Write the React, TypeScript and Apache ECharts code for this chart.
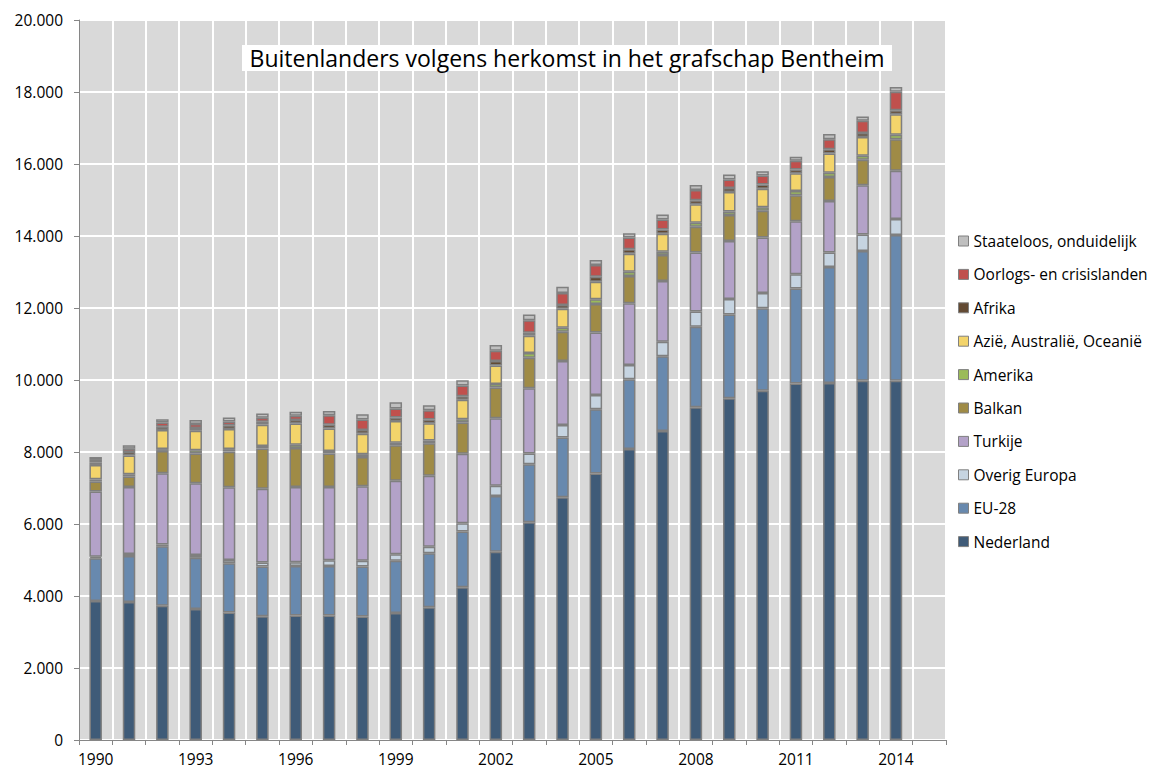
import React, { useEffect, useRef } from "react";
import * as echarts from "echarts";

const years = ["1990","1991","1992","1993","1994","1995","1996","1997","1998","1999","2000","2001","2002","2003","2004","2005","2006","2007","2008","2009","2010","2011","2012","2013","2014","2015"];

const nederland = [3860, 3830, 3730, 3640, 3540, 3440, 3460, 3460, 3430, 3530, 3690, 4240, 5230, 6050, 6740, 7400, 8080, 8580, 9240, 9490, 9700, 9900, 9920, 9980, 9980];
const eu28 = [1190, 1280, 1650, 1420, 1370, 1380, 1370, 1370, 1390, 1450, 1500, 1550, 1550, 1610, 1660, 1790, 1940, 2080, 2240, 2330, 2290, 2640, 3220, 3600, 4050];
const overigEuropa = [40, 60, 50, 80, 90, 110, 110, 160, 160, 180, 180, 230, 280, 300, 350, 390, 400, 400, 420, 430, 430, 400, 400, 460, 440];
const turkije = [1810, 1860, 1980, 1990, 2020, 2050, 2090, 2040, 2070, 2040, 1970, 1930, 1880, 1810, 1780, 1740, 1710, 1690, 1640, 1610, 1540, 1470, 1430, 1370, 1340];
const balkan = [280, 290, 620, 830, 990, 1120, 1080, 930, 810, 990, 900, 870, 850, 850, 810, 790, 760, 720, 720, 720, 740, 720, 670, 710, 880];
const amerika = [60, 60, 50, 90, 70, 70, 90, 70, 80, 70, 80, 90, 100, 130, 110, 130, 120, 90, 110, 100, 100, 120, 120, 110, 120];
const azie = [400, 520, 530, 540, 560, 590, 590, 620, 570, 600, 480, 540, 510, 480, 530, 490, 500, 500, 510, 540, 510, 490, 530, 520, 570];
const afrika = [70, 100, 90, 80, 100, 80, 100, 110, 100, 100, 100, 100, 130, 80, 100, 140, 120, 120, 110, 110, 120, 110, 120, 110, 110];
const oorlogs = [70, 90, 120, 110, 110, 110, 120, 260, 290, 250, 260, 300, 280, 350, 340, 325, 325, 280, 290, 240, 250, 240, 280, 340, 520];
const staateloos = [80, 100, 90, 110, 110, 120, 110, 120, 150, 170, 140, 140, 160, 160, 170, 140, 120, 140, 140, 140, 120, 110, 140, 120, 130];

const seriesNames = ["Nederland", "EU-28", "Overig Europa", "Turkije", "Balkan", "Amerika", "Azië, Australië, Oceanië", "Afrika", "Oorlogs- en crisislanden", "Staateloos, onduidelijk"];
const seriesData = [nederland, eu28, overigEuropa, turkije, balkan, amerika, azie, afrika, oorlogs, staateloos];
const seriesColors = ["#3f5b78", "#6889ae", "#c6d4e1", "#b3a2c8", "#9f8b46", "#9bbb59", "#f3d46b", "#634a33", "#c0504d", "#bfbfbf"];

const titleText = "Buitenlanders volgens herkomst in het grafschap Bentheim";
const FONT = "Open Sans";

export default function App() {
  const ref = useRef<HTMLDivElement>(null);
  useEffect(() => {
    document.body.style.margin = "0";
    if (!ref.current) return;
    const chart = echarts.init(ref.current, null, { renderer: "svg" });
    const option = {
      animation: false,
      backgroundColor: "#ffffff",
      grid: { left: 79, right: 223, top: 20, bottom: 32, show: true, backgroundColor: "#d9d9d9", borderWidth: 0 },
      xAxis: {
        type: "category",
        data: years,
        boundaryGap: true,
        axisLine: { lineStyle: { color: "#868686", width: 1 } },
        axisTick: { show: true, interval: 0, length: 5, lineStyle: { color: "#868686" } },
        axisLabel: { interval: 2, color: "#000", fontFamily: FONT, fontSize: 15.5, margin: 11 },
        splitLine: { show: true, interval: 0, lineStyle: { color: "#ffffff", width: 2 } },
      },
      yAxis: {
        type: "value",
        min: 0,
        max: 20000,
        interval: 2000,
        axisLine: { show: true, lineStyle: { color: "#868686", width: 1 } },
        axisTick: { show: true, length: 5, lineStyle: { color: "#868686" } },
        axisLabel: {
          color: "#000",
          fontFamily: FONT,
          fontSize: 15.5,
          margin: 16,
          formatter: (v: number) => String(v).replace(/\B(?=(\d{3})+(?!\d))/g, "."),
        },
        splitLine: { show: true, lineStyle: { color: "#ffffff", width: 2 } },
      },
      legend: {
        orient: "vertical",
        left: 953,
        top: 228,
        itemWidth: 10,
        itemHeight: 10,
        itemGap: 17.4,
        icon: "rect",
        itemStyle: { borderColor: "#808080", borderWidth: 1 },
        textStyle: { fontFamily: FONT, fontSize: 15.5, color: "#000", lineHeight: 16 },
        data: seriesNames.slice().reverse(),
      },
      graphic: [
        {
          type: "rect",
          shape: { x: 242, y: 45, width: 650, height: 26 },
          style: { fill: "#ffffff" },
          z: 100,
        },
        {
          type: "text",
          x: 567,
          y: 58,
          z: 101,
          style: { text: titleText, fill: "#000", fontFamily: FONT, fontSize: 23, align: "center", verticalAlign: "middle" },
        },
      ],
      series: seriesNames.map((name, i) => ({
        name,
        type: "bar",
        stack: "total",
        barWidth: 12.5,
        data: seriesData[i],
        itemStyle: { color: seriesColors[i], borderColor: "#7f7f7f", borderWidth: 1.5 },
        emphasis: { disabled: true },
      })),
    };
    chart.setOption(option as any);
    return () => chart.dispose();
  }, []);
  return <div ref={ref} style={{ width: 1169, height: 772 }} />;
}
